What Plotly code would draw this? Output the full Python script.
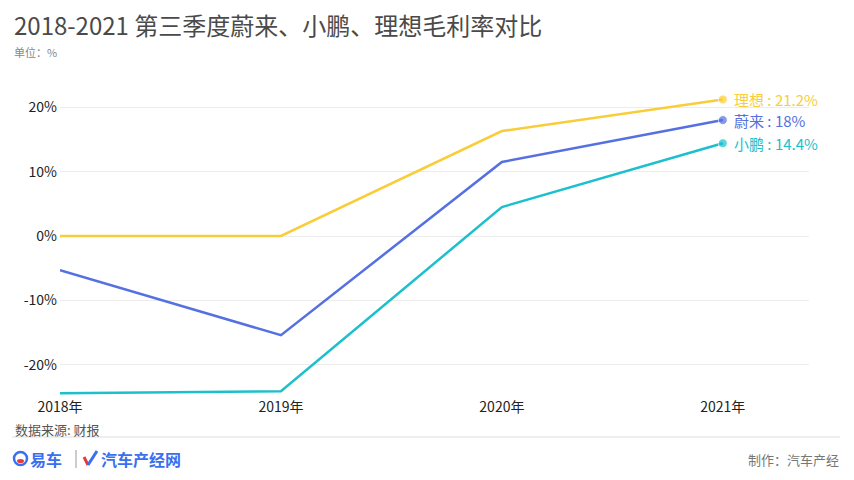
import plotly.graph_objects as go

years = ["2018年", "2019年", "2020年", "2021年"]
nio = [-5.3, -15.4, 11.5, 18.0]
xpeng = [-24.4, -24.1, 4.5, 14.4]
li = [0.0, 0.0, 16.3, 21.2]
names = ["理想", "蔚来", "小鹏"]
colors = ["#f9cd3a", "#5570e0", "#1cc0cc"]
series = [li, nio, xpeng]
yticks = [-20, -10, 0, 10, 20]
ytick_text = ["-20%", "-10%", "0%", "10%", "20%"]

FONT = "Noto Sans CJK SC"
OFF = 8  # page body margin
W, H = 854 - OFF, 480 - OFF
# desired screen geometry of the plot area
PL, PR, PT, PB = 60, 809, 75, 397
ML, MR, MT, MB = PL - OFF, W - (PR - OFF), PT - OFF, H - (PB - OFF)

fig = go.Figure()
xi = list(range(len(years)))
for name, vals, col in zip(names, series, colors):
    sizes = [0] * (len(vals) - 1) + [9]
    fig.add_trace(go.Scatter(
        x=xi, y=vals, mode="lines+markers", name=name,
        line=dict(color=col, width=2.5),
        marker=dict(size=sizes, color=col),
        hoverinfo="skip", showlegend=False,
    ))
    v = vals[-1]
    fig.add_annotation(
        x=xi[-1], y=v, xref="x", yref="y",
        text=f"{name} : {v:g}%", showarrow=False,
        xanchor="left", yanchor="middle", xshift=9,
        font=dict(family=FONT, size=15, color=col),
    )

fig.update_layout(
    width=W, height=H,
    margin=dict(l=ML, r=MR, t=MT, b=MB),
    paper_bgcolor="white", plot_bgcolor="white",
    font=dict(family=FONT, color="#333"),
    xaxis=dict(
        range=[0, 3.39], tickvals=xi, ticktext=years,
        showgrid=False, zeroline=False, showline=False,
        tickfont=dict(size=14, color="#222"), ticks="",
    ),
    yaxis=dict(
        range=[-25, 25], tickvals=yticks, ticktext=ytick_text,
        showgrid=True, gridcolor="#ececec", gridwidth=1,
        zeroline=False, showline=False,
        tickfont=dict(size=14, color="#222"), ticks="",
        ticklabelstandoff=2,
    ),
)


def px(xs, ys):
    # screen pixel -> paper coordinates
    pw = PR - PL
    ph = PB - PT
    return (xs - PL) / pw, (PB - ys) / ph


anns = [
    (12, 24, "2018-2021 第三季度蔚来、小鹏、理想毛利率对比", 24, "#4a4a4a", "left"),
    (12, 52, "单位：%", 11, "#888", "left"),
    (13, 429, "数据来源: 财报", 13, "#555", "left"),
    (841, 459, "制作：汽车产经", 13, "#777", "right"),
]
for xs, ys, t, s, c, anc in anns:
    xx, yy = px(xs, ys)
    fig.add_annotation(x=xx, y=yy, xref="paper", yref="paper", text=t,
                       showarrow=False, xanchor=anc, yanchor="middle",
                       font=dict(family=FONT, size=s, color=c))

# footer line
x0, y0 = px(12, 437)
x1, _ = px(840, 437)
fig.add_shape(type="line", xref="paper", yref="paper", x0=x0, x1=x1, y0=y0, y1=y0,
              line=dict(color="#dddddd", width=1))
# logo: Yiche circle icon
cx0, cy0 = px(14, 452)
cx1, cy1 = px(27, 465)
fig.add_shape(type="circle", xref="paper", yref="paper", x0=cx0, x1=cx1, y0=cy1, y1=cy0,
              line=dict(color="#3a6ff0", width=2.5))
dx0, dy0 = px(17, 459)
dx1, dy1 = px(24, 463)
fig.add_shape(type="circle", xref="paper", yref="paper", x0=dx0, x1=dx1, y0=dy1, y1=dy0,
              fillcolor="#e8383d", line=dict(width=0))
lx, ly = px(28, 459)
fig.add_annotation(x=lx, y=ly, xref="paper", yref="paper", text="<b>易车</b>",
                   showarrow=False, xanchor="left", yanchor="middle",
                   font=dict(family=FONT, size=16, color="#3a6ff0"))
sx0, sy0 = px(76, 450)
_, sy1 = px(76, 468)
fig.add_shape(type="line", xref="paper", yref="paper", x0=sx0, x1=sx0, y0=sy0, y1=sy1,
              line=dict(color="#999", width=1))
# check-like mark
a = px(84, 457)
b = px(88, 465)
c = px(97, 451)
fig.add_shape(type="line", xref="paper", yref="paper", x0=a[0], y0=a[1], x1=b[0], y1=b[1],
              line=dict(color="#e8383d", width=3))
fig.add_shape(type="line", xref="paper", yref="paper", x0=b[0], y0=b[1], x1=c[0], y1=c[1],
              line=dict(color="#3a6ff0", width=3))
tx, ty = px(99, 459)
fig.add_annotation(x=tx, y=ty, xref="paper", yref="paper", text="<b>汽车产经网</b>",
                   showarrow=False, xanchor="left", yanchor="middle",
                   font=dict(family=FONT, size=16, color="#3a6ff0"))

fig.write_html("out.html")
